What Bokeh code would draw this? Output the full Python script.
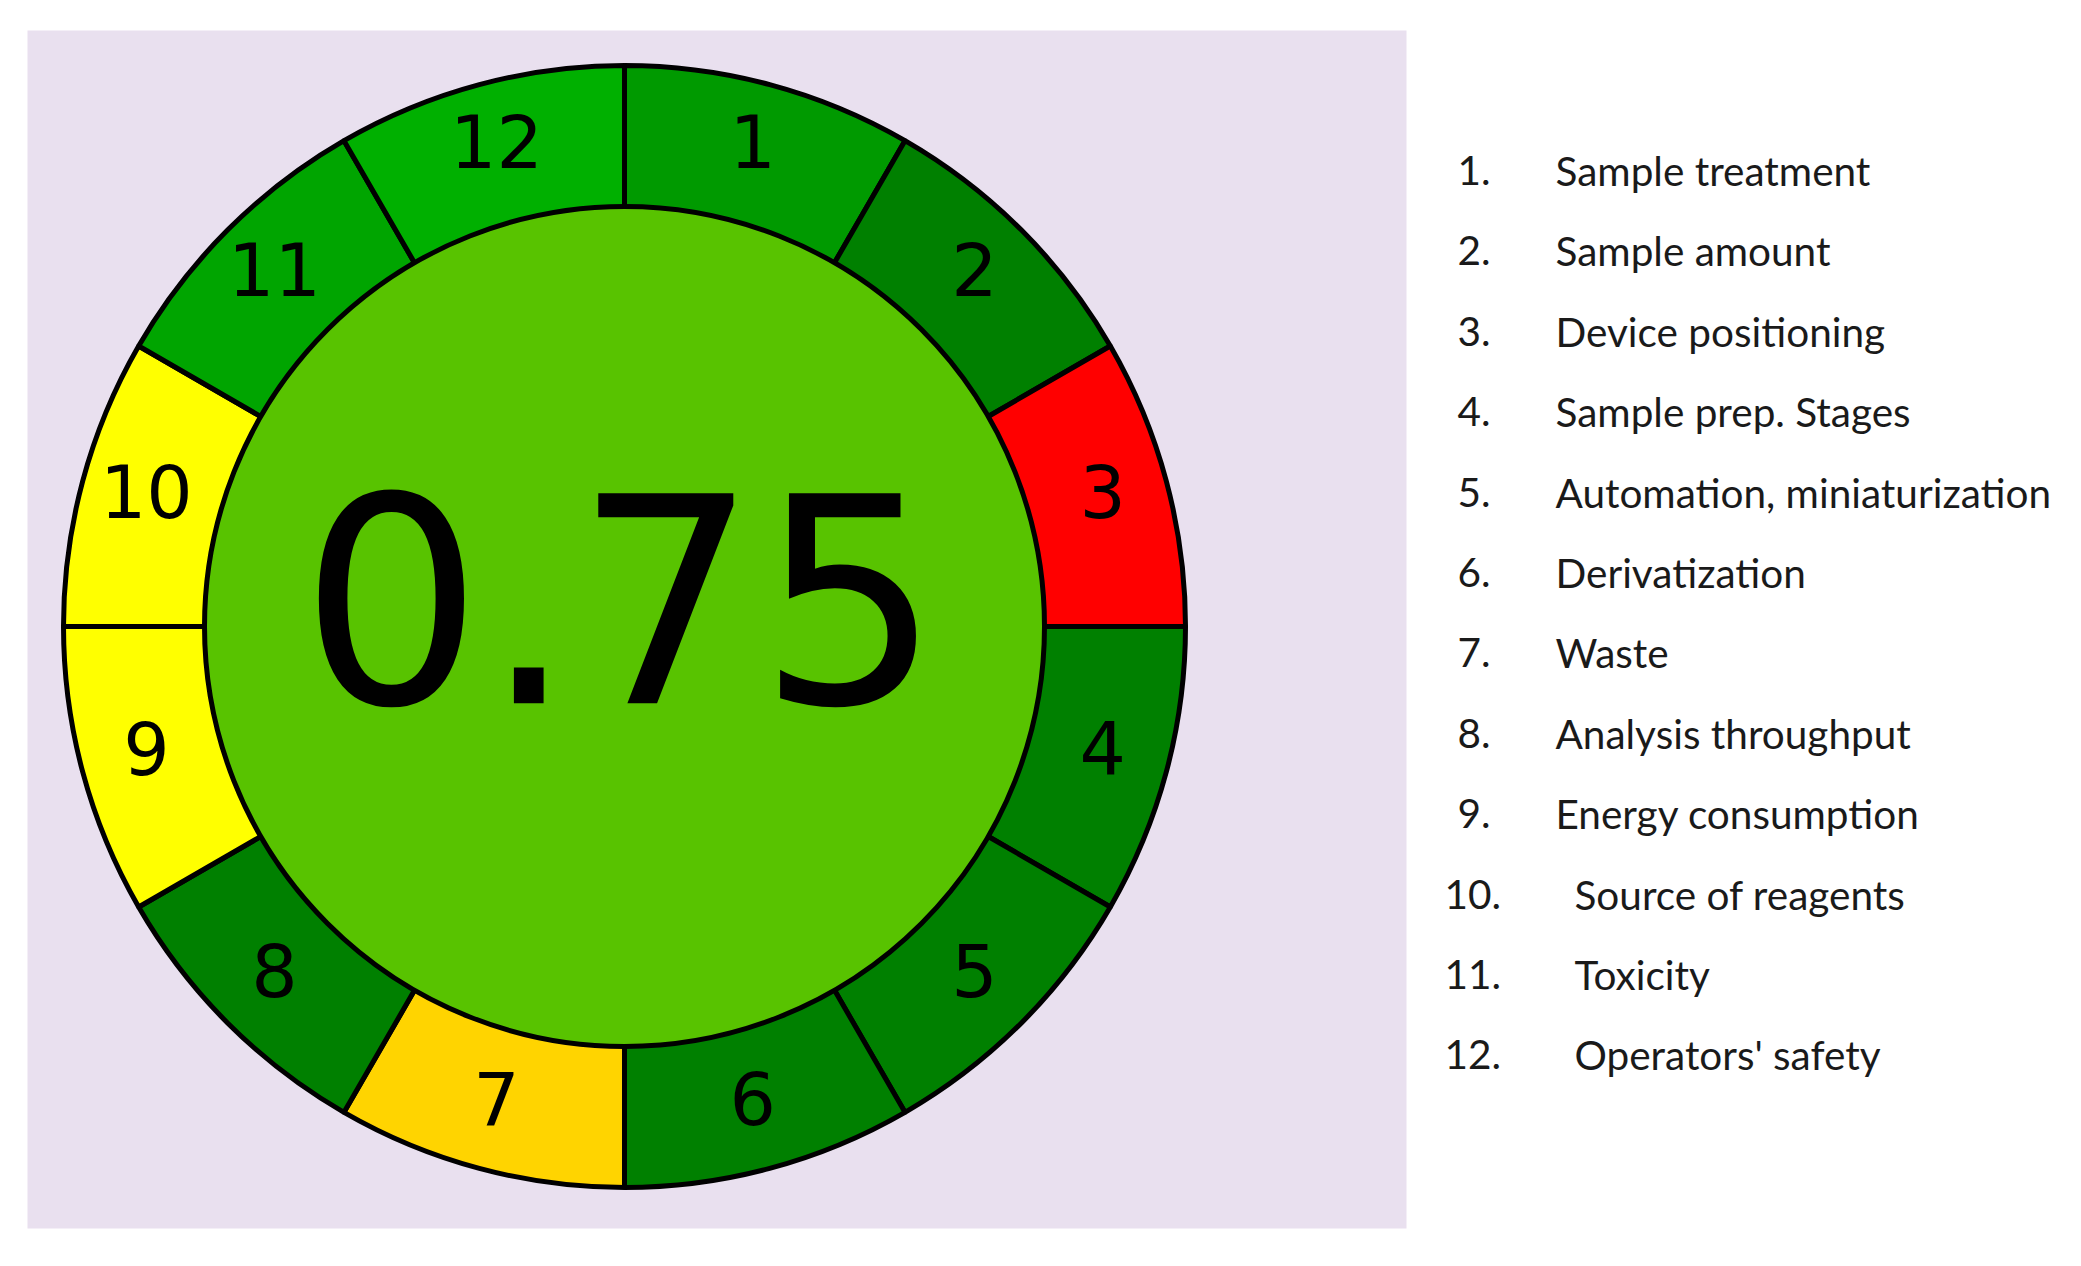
import numpy as np
from bokeh.plotting import figure
from bokeh.models import Range1d
from bokeh.core.properties import value
from bokeh.embed import file_html
from bokeh.resources import INLINE

# ---- data ----
segments = ["1", "2", "3", "4", "5", "6", "7", "8", "9", "10", "11", "12"]
segment_colors = ["#009a00", "#008000", "#ff0000", "#008000", "#008000", "#008000",
                  "#ffd400", "#008000", "#ffff00", "#ffff00", "#00a500", "#00b000"]
total_score = "0.75"
total_color = "#58c300"
legend_nums = ["1.", "2.", "3.", "4.", "5.", "6.", "7.", "8.", "9.", "10.", "11.", "12."]
legend_labels = ["Sample treatment", "Sample amount", "Device positioning",
                 "Sample prep. Stages", "Automation, miniaturization", "Derivatization",
                 "Waste", "Analysis throughput", "Energy consumption",
                 "Source of reagents", "Toxicity", "Operators' safety"]

W, H = 2065, 1250
p = figure(width=W, height=H, output_backend="svg", toolbar_location=None,
           x_range=Range1d(0, W), y_range=Range1d(1266 - H, 1266),
           min_border=0, outline_line_color=None, background_fill_color="white",
           border_fill_color="white")
p.axis.visible = False
p.grid.visible = False

def sy(y):  # screen y -> data y
    return 1266 - y

# background panel
p.quad(left=27, right=1406, top=sy(30), bottom=sy(1228), fill_color="#e9e0ef", line_color=None)

cx, cy = 624, sy(626)
R_out, R_in = 561, 420
n = len(segments)
step = 2 * np.pi / n
starts = [np.pi / 2 - step * (i + 1) for i in range(n)]
ends = [np.pi / 2 - step * i for i in range(n)]
p.annular_wedge(x=cx, y=cy, inner_radius=R_in - 10, outer_radius=R_out,
                start_angle=starts, end_angle=ends, direction="anticlock",
                fill_color=segment_colors, line_color="black", line_width=5)
p.circle(x=cx, y=cy, radius=R_in, fill_color=total_color, line_color="black", line_width=5)

mids = [np.pi / 2 - step * (i + 0.5) for i in range(n)]
r_lab = 495
lx = [cx + r_lab * np.cos(a) for a in mids]
ly = [cy + 7 + r_lab * np.sin(a) for a in mids]
p.text(x=lx, y=ly, text=segments, text_align="center", text_baseline="middle",
       text_font=value("DejaVu Sans"), text_font_size="73px", text_color="black")

p.text(x=[620], y=[sy(597)], text=[total_score], text_align="center",
       text_baseline="alphabetic", text_font=value("DejaVu Sans"),
       text_font_size="288px", text_color="black")

# legend
ys = [sy(170 + 80.4 * i) for i in range(len(legend_labels))]
nx = [1457 if len(s) < 3 else 1444 for s in legend_nums]
tx = [1555 if len(s) < 3 else 1574 for s in legend_nums]
p.text(x=nx, y=ys, text=legend_nums, text_align="left", text_baseline="middle",
       text_font=value("Lato"), text_font_size="40.5px", text_color="#1a1a1a")
p.text(x=tx, y=ys, text=legend_labels, text_align="left", text_baseline="middle",
       text_font=value("Lato"), text_font_size="40.5px", text_color="#1a1a1a")

open("out.html", "w").write(file_html(p, INLINE))
